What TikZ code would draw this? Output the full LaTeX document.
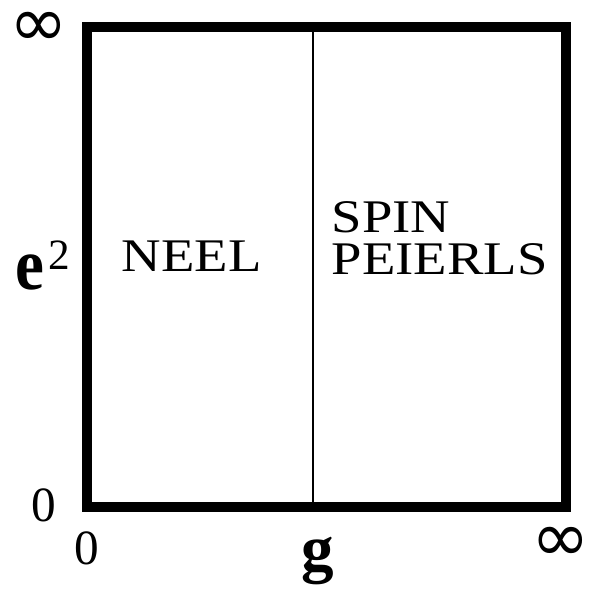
\documentclass[tikz,border=0pt]{standalone}
\usepackage{fontspec}
\setmainfont{Liberation Serif}
\newfontfamily\symbolfont{DejaVu Sans}
\usepackage{graphicx}
\usetikzlibrary{positioning}
\newcommand{\wideword}[1]{\scalebox{1.17}[1]{#1}}

\begin{document}
\begin{tikzpicture}[
        x=0.01cm, y=-0.01cm,
        frame/.style={draw=black, line width=0.1cm},
        divider/.style={draw=black, line width=0.02cm},
        phase/.style={inner sep=0pt, font=\fontsize{13.3}{12}\selectfont},
        tick/.style={inner sep=0pt, font=\fontsize{14}{14}\selectfont},
        infsign/.style={inner sep=0pt, font=\fontsize{20}{20}\symbolfont},
        axisname/.style={inner sep=0pt}
    ]
    \useasboundingbox (0,0) rectangle (589,592);

    % phase diagram frame
    \coordinate (sw) at (87,507);
    \coordinate (ne) at (566,27);
    \draw[frame] (sw) rectangle (ne);
    \coordinate (gtop) at (313,27);
    \coordinate (gbot) at (313,507);
    \draw[divider] (gtop) -- (gbot);

    % phases
    \node[phase, anchor=base west] (neel) at (121,272) {\wideword{NEEL}};
    \node[phase, anchor=base west] (spin) at (331,233) {\wideword{SPIN}};
    \node[phase, anchor=base west] (peierls) at (331,275) {\wideword{PEIERLS}};

    % axis ends
    \node[infsign] (einf) at (38.5,29) {∞};
    \node[infsign] (ginf) at (560.5,544) {∞};
    \node[tick] (ezero) at (44,505) {0};
    \node[tick] (gzero) at (87,548) {0};

    % axis names
    \node[axisname, anchor=base west] (e2) at (15,290)
        {\scalebox{0.88}[1]{\fontsize{21}{21}\selectfont\bfseries e}\kern0.04cm\raisebox{0.2cm}{\fontsize{12.3}{12.3}\selectfont 2}};
    \node[axisname, anchor=base, font=\fontsize{18.5}{18.5}\selectfont\bfseries] (g) at (318,570) {g};
\end{tikzpicture}
\end{document}
